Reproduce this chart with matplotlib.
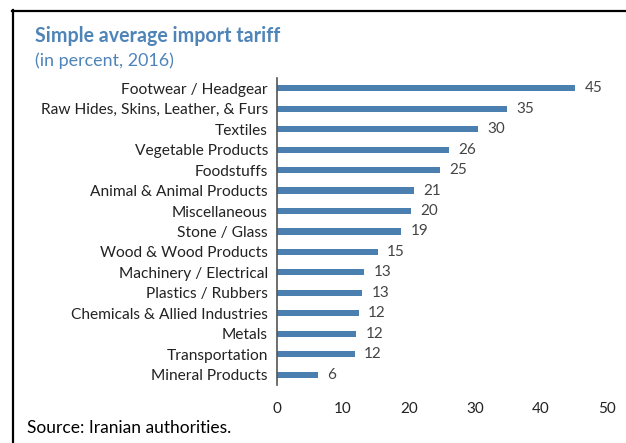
import matplotlib
matplotlib.use('Agg')
import matplotlib.pyplot as plt
from matplotlib.lines import Line2D
import numpy as np

plt.rcParams['font.family'] = ['Lato', 'DejaVu Sans']

categories = ['Footwear / Headgear', 'Raw Hides, Skins, Leather, & Furs', 'Textiles',
              'Vegetable Products', 'Foodstuffs', 'Animal & Animal Products',
              'Miscellaneous', 'Stone / Glass', 'Wood & Wood Products',
              'Machinery / Electrical', 'Plastics / Rubbers', 'Chemicals & Allied Industries',
              'Metals', 'Transportation', 'Mineral Products']
tariff = [45.2, 34.8, 30.4, 26.1, 24.7, 20.8, 20.3, 18.8, 15.3, 13.2, 12.9, 12.4, 12.0, 11.8, 6.2]
xticks = [0, 10, 20, 30, 40, 50]

bar_color = '#4a7fb0'
title_color = '#4f84b8'
text_color = '#222222'
label_color = '#444444'

fig = plt.figure(figsize=(6.26, 4.43), dpi=100)
ax = fig.add_axes([0.4425, 0.131, 0.5271, 0.693])

y = np.arange(len(categories))
ax.barh(y, tariff, height=0.3, color=bar_color)
for yi, v in zip(y, tariff):
    ax.text(v + 1.4, yi, '%d' % round(v), va='center', ha='left', fontsize=11, color=label_color)

ax.set_ylim(len(categories) - 0.5, -0.5)
ax.set_xlim(0, 50)
ax.set_xticks(xticks)
ax.set_yticks(y)
ax.set_yticklabels(categories, fontsize=11.2, color=text_color)
ax.tick_params(axis='x', length=0, pad=12, labelsize=11, labelcolor=text_color)
ax.tick_params(axis='y', length=0, pad=6.5)
for s in ['top', 'right', 'bottom']:
    ax.spines[s].set_visible(False)
ax.spines['left'].set_color('#555555')
ax.spines['left'].set_linewidth(1.2)

fig.text(0.056, 0.905, 'Simple average import tariff', fontsize=14.1, fontweight='bold',
         color=title_color, va='baseline')
fig.text(0.056, 0.852, '(in percent, 2016)', fontsize=12.9, color=title_color, va='baseline')
fig.text(0.043, 0.022, 'Source: Iranian authorities.', fontsize=12.5, color='black', va='baseline')

fig.add_artist(Line2D([0.019, 1.0], [0.976, 0.976], color='black', lw=1.6, transform=fig.transFigure))
fig.add_artist(Line2D([0.0208, 0.0208], [0.977, 0.0], color='black', lw=1.6, transform=fig.transFigure))

fig.savefig('out.png', dpi=100)
